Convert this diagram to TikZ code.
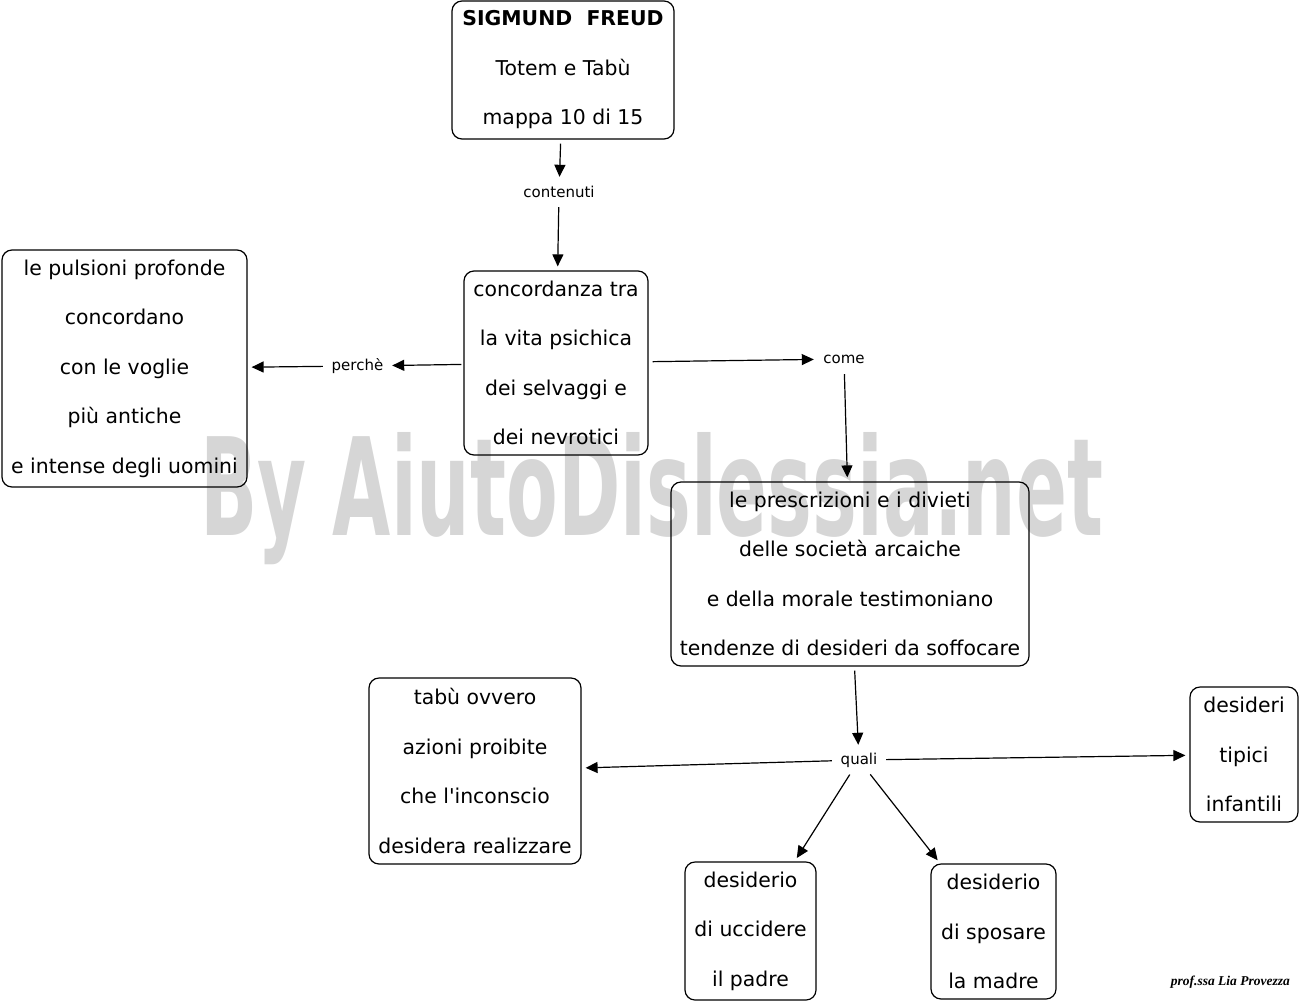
\documentclass[tikz,border=0pt]{standalone}
\usepackage{fontspec}
\setmainfont{DejaVu Sans}[Ligatures=TeXOff]
\newfontfamily\sigfont{Liberation Serif}
\usetikzlibrary{arrows.meta}
\definecolor{wm}{RGB}{214,214,214}
\begin{document}
\begin{tikzpicture}[x=1pt,y=-1pt,
  box/.style={draw,rounded corners=10pt,line width=1.2pt,inner sep=0pt,align=center,
    font=\fontsize{20.4}{49.5}\selectfont},
  lbl/.style={inner sep=0pt,minimum height=22pt,font=\fontsize{15}{18}\selectfont},
  arr/.style={-{Triangle[length=12pt,width=11pt]},line width=1.2pt,shorten >=4pt,shorten <=4pt}]
\useasboundingbox (0,0) rectangle (1300,1004);
% watermark
\node[anchor=base west,inner sep=0pt,text=wm] (wmark) at (200,535)
  {\resizebox{903pt}{103pt}{\bfseries By AiutoDislessia.net}};
% boxes
\node[box,minimum width=222pt,minimum height=138pt] (freud) at (563,70)
  {\textbf{SIGMUND\ \ FREUD}\\Totem e Tabù\\mappa 10 di 15};
\node[box,minimum width=184pt,minimum height=184pt] (conc) at (556,363)
  {concordanza tra\\la vita psichica\\dei selvaggi e\\dei nevrotici};
\node[box,minimum width=245pt,minimum height=237pt] (puls) at (124.5,368.5)
  {le pulsioni profonde\\concordano\\con le voglie\\più antiche\\e intense degli uomini};
\node[box,minimum width=358pt,minimum height=184pt] (presc) at (850,574)
  {le prescrizioni e i divieti\\delle società arcaiche\\e della morale testimoniano\\tendenze di desideri da soffocare};
\node[box,minimum width=212pt,minimum height=186pt] (tabu) at (475,771)
  {tabù ovvero\\azioni proibite\\che l'inconscio\\desidera realizzare};
\node[box,minimum width=108pt,minimum height=135pt] (tipici) at (1244,754.5)
  {desideri\\tipici\\infantili};
\node[box,minimum width=131pt,minimum height=138pt] (uccid) at (750.5,931)
  {desiderio\\di uccidere\\il padre};
\node[box,minimum width=125pt,minimum height=135pt] (sposa) at (993.5,931.5)
  {desiderio\\di sposare\\la madre};
% labels
\node[lbl,minimum width=71pt] (cont) at (559,192) {contenuti};
\node[lbl,minimum width=61pt] (perche) at (357.5,366) {perchè};
\node[lbl,minimum width=52pt] (come) at (844,359) {come};
\node[lbl,minimum width=46pt] (quali) at (859,760) {quali};
% connectors
\draw[arr] (freud) -- (cont);
\draw[arr] (cont) -- (conc);
\draw[arr,shorten <=2pt] (conc) -- (perche);
\draw[arr] (perche) -- (puls);
\draw[arr] (conc) -- (come);
\draw[arr] (come) -- (presc);
\draw[arr] (presc) -- (quali);
\draw[arr] (quali) -- (tabu);
\draw[arr] (quali) -- (tipici);
\draw[arr] (quali) -- (uccid);
\draw[arr] (quali) -- (sposa);
% signature
\node[anchor=east,inner sep=0pt,font=\sigfont\bfseries\itshape\fontsize{13.5}{15}\selectfont] (sig) at (1290,982) {prof.ssa Lia Provezza};
\end{tikzpicture}
\end{document}
